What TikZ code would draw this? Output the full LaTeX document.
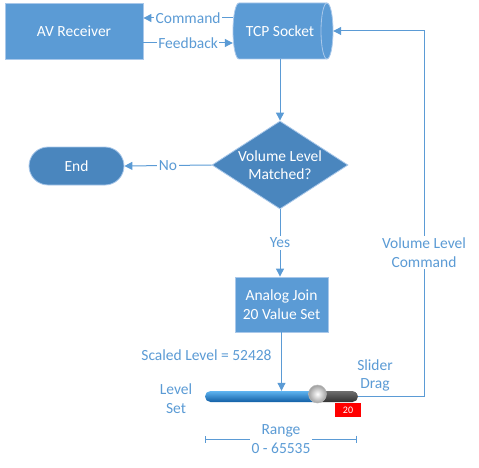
\documentclass[tikz,border=0pt]{standalone}
\usepackage{fontspec}
\setmainfont{Carlito}
\usetikzlibrary{arrows.meta,shapes.geometric,calc}
\definecolor{boxblue}{HTML}{5B9BD5}
\definecolor{darkblue}{HTML}{4A86BE}
\definecolor{lineblue}{HTML}{5B9BD5}
\definecolor{edgeblue}{HTML}{A9C8EA}
\begin{document}
\begin{tikzpicture}[x=1pt,y=1pt,
  font=\fontsize{15.5}{18.5}\selectfont,
  box/.style={rectangle, fill=boxblue, draw=edgeblue, line width=0.8pt, text=white, align=center, inner sep=0pt},
  conn/.style={draw=lineblue, line width=1pt, -{Triangle[length=8pt,width=8pt]}},
  lbl/.style={text=lineblue, fill=white, inner sep=1.5pt, align=center}]
\useasboundingbox (0,0) rectangle (479,467);
% AV receiver
\node[box, minimum width=138pt, minimum height=56pt] (av) at (74,436) {AV Receiver};
% TCP socket cylinder
\fill[boxblue] (239,464) -- (327,464) arc[start angle=90,end angle=-90,x radius=6,y radius=28]
  -- (239,408) arc[start angle=270,end angle=90,x radius=6,y radius=28] -- cycle;
\draw[edgeblue, line width=0.8pt] (239,464) -- (327,464) arc[start angle=90,end angle=-90,x radius=6,y radius=28]
  -- (239,408) arc[start angle=270,end angle=90,x radius=6,y radius=28] -- cycle;
\draw[edgeblue, line width=0.8pt] (327,464) arc[start angle=90,end angle=270,x radius=6,y radius=28];
\node[text=white, minimum width=94pt, minimum height=56pt, inner sep=0pt] (tcp) at (280,436) {TCP Socket};
% arrows between AV and TCP
\draw[conn] ([yshift=13pt]tcp.west) -- ([yshift=13pt]av.east) node[lbl, midway] (cmd) {Command};
\draw[conn] ([yshift=-12pt]av.east) -- ([yshift=-12pt]tcp.west) node[lbl, midway] (fb) {Feedback};
% decision
\node[diamond, fill=darkblue, draw=edgeblue, line width=0.8pt, minimum width=136pt, minimum height=88pt, inner sep=0pt,
  label={[text=white, align=center]center:Volume Level\\Matched?}] (dec) at (280,302) {};
\draw[conn] (tcp.south) -- (dec.north);
% end
\node[rectangle, rounded corners=19pt, fill=darkblue, draw=edgeblue, line width=0.8pt, minimum width=95pt, minimum height=38pt, text=white] (end) at (76.5,301) {End};
\draw[conn] (dec.west) -- (end.east) node[lbl, midway] (no) {No};
% analog join
\node[box, minimum width=93pt, minimum height=55pt] (analog) at (281.5,162.5) {Analog Join\\20 Value Set};
\draw[conn] (dec.south) -- (dec.south |- analog.north) node[lbl, midway] (yes) {Yes};
% slider
\node[minimum width=153pt, minimum height=11pt, inner sep=0pt] (track) at (281.5,70.5) {};
\begin{scope}
  \clip[rounded corners=5.5pt] (205,65) rectangle (358,76);
  \shade[top color={rgb,255:red,95;green,180;blue,240}, bottom color={rgb,255:red,18;green,95;blue,165}] (205,65) rectangle (318,76);
  \shade[top color={rgb,255:red,110;green,110;blue,110}, bottom color={rgb,255:red,50;green,50;blue,50}] (318,65) rectangle (358,76);
\end{scope}
\shade[inner color=white, outer color=gray!75] (317.5,73) circle (9);
\draw[gray!55, line width=0.5pt] (317.5,73) circle (9);
\node[fill=red, text=white, font=\fontsize{10}{11}\selectfont, minimum width=26pt, minimum height=14pt, inner sep=0pt] (val) at (348,57) {20};
\draw[conn] (analog.south) -- (analog.south |- track.north);
\node[lbl] (scaled) at (206.5,112) {Scaled Level = 52428};
\node[lbl, fill=none] (lvl) at (176,68.5) {Level\\Set};
\node[lbl] (drag) at (375,91.5) {Slider\\Drag};
% feedback loop
\coordinate (rc) at (424,436);
\draw[conn] (track.east) -| (rc) -- ([xshift=6pt]tcp.east);
\node[lbl] (vlc) at (424,214.5) {Volume Level\\Command};
% range
\coordinate (rl) at (205,28);
\coordinate (rr) at (357,28);
\draw[lineblue, line width=0.9pt, {Bar[width=7pt]}-{Bar[width=7pt]}] (rl) -- (rr) node[lbl, midway] (range) {Range\\0 - 65535};
\end{tikzpicture}
\end{document}
